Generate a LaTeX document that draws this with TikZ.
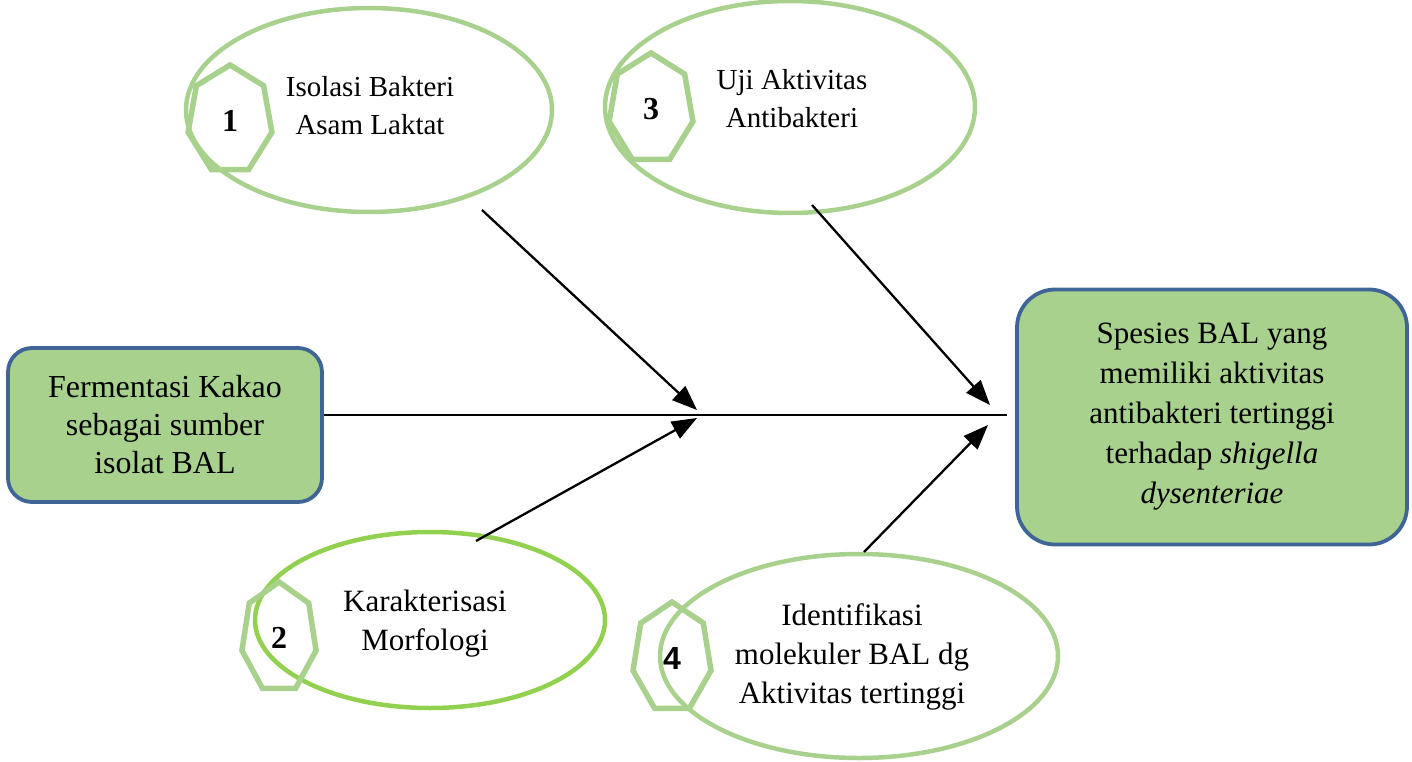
\documentclass[tikz,border=0pt]{standalone}
\usepackage{fontspec}
\setmainfont{Liberation Serif}
\newfontfamily\numsans{Liberation Sans}
\usetikzlibrary{arrows.meta,shapes.geometric}
\definecolor{pale}{RGB}{169,209,142}
\definecolor{bright}{RGB}{146,208,80}
\definecolor{boxfill}{RGB}{169,209,142}
\definecolor{boxline}{RGB}{63,101,151}
\newcommand\myhept[4]{\draw[hep] ({#1},{#2-#4}) \foreach \k in {1,...,6}{ -- ({#1+#3*cos(90+\k*360/7)},{#2-#4*sin(90+\k*360/7)}) } -- cycle;}
\tikzset{
  ell/.style={draw=pale, line width=4.5pt, ellipse, inner sep=0pt},
  hep/.style={draw=pale, line width=5.5pt, line join=miter},
  box/.style={draw=boxline, fill=boxfill, line width=3.8pt, rounded corners=26pt, align=center, inner sep=0pt, font=\fontsize{32}{38}\selectfont},
  txt/.style={align=center, inner sep=0pt, font=\fontsize{29}{38}\selectfont},
  num/.style={inner sep=0pt, font=\fontsize{32}{36}\selectfont\bfseries},
  arr/.style={line width=2.3pt, -{Triangle[length=25pt,width=19pt]}},
  mainline/.style={line width=2.3pt}
}
\begin{document}
\begin{tikzpicture}[x=1pt,y=-1pt]
\useasboundingbox (0,0) rectangle (1412,762);
% ellipses
\node[ell, minimum width=366pt, minimum height=204pt] (e1) at (369,110) {};
\node[ell, minimum width=370pt, minimum height=212pt] (e3) at (790,107) {};
\node[ell, draw=bright, minimum width=350pt, minimum height=176pt] (e2) at (430,620) {};
\node[ell, minimum width=398pt, minimum height=204pt] (e4) at (859,656) {};
% heptagons
\myhept{230}{120}{43}{55}
\myhept{651}{109}{43}{56}
\myhept{279}{638}{38}{56}
\myhept{672}{658}{40}{56}
% numbers
\node[num] (n1) at (230,121) {1};
\node[num] (n3) at (651,109) {3};
\node[num] (n2) at (279,638) {2};
\node[num, font=\fontsize{32}{36}\selectfont\numsans\bfseries] (n4) at (672,658) {4};
% ellipse texts
\node[txt] (t1) at (370,106) {Isolasi Bakteri\\Asam Laktat};
\node[txt] (t3) at (792,99) {Uji Aktivitas\\Antibakteri};
\node[txt, font=\fontsize{31}{39}\selectfont] (t2) at (425,624) {Karakterisasi\\Morfologi};
\node[txt, font=\fontsize{31}{39}\selectfont] (t4) at (852,657) {Identifikasi\\molekuler BAL dg\\Aktivitas tertinggi};
% boxes
\node[box, minimum width=314pt, minimum height=154pt, rounded corners=24pt] (src) at (165,425) {Fermentasi Kakao\\sebagai sumber\\isolat BAL};
\node[box, minimum width=390pt, minimum height=255pt, rounded corners=38pt, font=\fontsize{31}{40}\selectfont] (res) at (1212,417) {Spesies BAL yang\\memiliki aktivitas\\antibakteri tertinggi\\terhadap \textit{shigella}\\\textit{dysenteriae}};
% connectors
\coordinate (lend) at (1007,415);
\draw[mainline] (src.east |- lend) -- (lend);
\coordinate (s1) at (482,210);
\coordinate (j1) at (697,410);
\coordinate (s2) at (476,541);
\coordinate (j2) at (697,418);
\coordinate (s3) at (812,205);
\coordinate (j3) at (990,405);
\coordinate (s4) at (864,552);
\coordinate (j4) at (988,425);
\draw[arr] (s1) -- (j1);
\draw[arr] (s2) -- (j2);
\draw[arr] (s3) -- (j3);
\draw[arr] (s4) -- (j4);
\end{tikzpicture}
\end{document}
